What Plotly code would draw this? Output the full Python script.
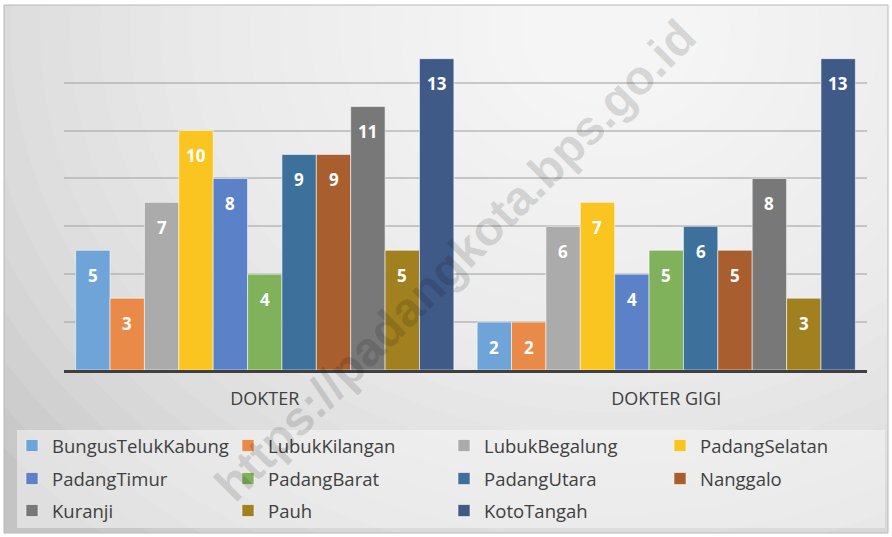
import plotly.graph_objects as go

categories = ["DOKTER", "DOKTER GIGI"]
districts = ["BungusTelukKabung", "LubukKilangan", "LubukBegalung", "PadangSelatan",
             "PadangTimur", "PadangBarat", "PadangUtara", "Nanggalo",
             "Kuranji", "Pauh", "KotoTangah"]
dokter = [5, 3, 7, 10, 8, 4, 9, 9, 11, 5, 13]
dokter_gigi = [2, 2, 6, 7, 4, 5, 6, 5, 8, 3, 13]
colors = ["#6ea4d8", "#e98a49", "#ababab", "#fac421", "#5b81c8", "#7fb25a",
          "#3e709c", "#a85e2e", "#787878", "#a1811f", "#405a87"]

W, H = 892, 537
ML, MR, MT, MB = 64, 25, 34, 167
PW, PH = W - ML - MR, H - MT - MB
BARGAP = 0.058


def px(x):
    return (x - ML) / PW


def py(y):
    return (H - MB - y) / PH


legend_ids = ["legend", "legend2", "legend3"]
nser = len(districts)
bar_w = (1 - BARGAP) / nser

fig = go.Figure()
annotations = []
for i, name in enumerate(districts):
    vals = [dokter[i], dokter_gigi[i]]
    fig.add_trace(go.Bar(
        name=name, x=categories, y=vals,
        legend=legend_ids[i // 4],
        marker=dict(color=colors[i], line=dict(color="rgba(255,255,255,0.55)", width=1)),
    ))
    for j, v in enumerate(vals):
        annotations.append(dict(
            x=j + (i - (nser - 1) / 2) * bar_w, y=v, xref="x", yref="y",
            text=str(v), showarrow=False, yanchor="middle", yshift=-25,
            font=dict(family="Open Sans", size=17, color="white", weight="bold")))

shapes = []
# frame background
shapes.append(dict(type="rect", xref="paper", yref="paper", x0=px(4), x1=px(888),
                   y0=py(533), y1=py(5), fillcolor="#c4c4c4", line=dict(width=0), layer="below"))
# radial gradient approximation
cx, cy = 610, 30
n = 26
for k in range(n):
    r = 780 * (1 - k / n)
    shapes.append(dict(type="circle", xref="paper", yref="paper",
                       x0=px(cx - r), x1=px(cx + r), y0=py(cy + r * 0.85), y1=py(cy - r * 0.85),
                       fillcolor="rgba(255,255,255,0.085)", line=dict(width=0), layer="below"))
# cover outside of frame with white
for (a, b, c, d) in [(-200, 4, -300, 900), (888, 1200, -300, 900),
                     (-200, 1200, -300, 5), (-200, 1200, 533, 900)]:
    shapes.append(dict(type="rect", xref="paper", yref="paper", x0=px(a), x1=px(b),
                       y0=py(d), y1=py(c), fillcolor="white", line=dict(width=0), layer="below"))
# frame border
shapes.append(dict(type="rect", xref="paper", yref="paper", x0=px(4), x1=px(888),
                   y0=py(533), y1=py(5), line=dict(color="#b8b8b8", width=1), layer="below"))
# legend box
shapes.append(dict(type="rect", xref="paper", yref="paper", x0=px(17), x1=px(885),
                   y0=py(528), y1=py(430), fillcolor="rgba(245,245,245,0.55)",
                   line=dict(width=0), layer="below"))

legend_style = dict(orientation="h", xanchor="left", yanchor="middle",
                    bgcolor="rgba(0,0,0,0)", entrywidth=171, entrywidthmode="pixels",
                    font=dict(family="Open Sans", size=18.5, color="#404040"),
                    itemwidth=30, traceorder="normal")
row_y = [446, 479, 511]

annotations.append(dict(text="https://padangkota.bps.go.id", xref="paper", yref="paper",
                        x=px(455), y=py(260), xanchor="center", yanchor="middle",
                        showarrow=False, textangle=-45,
                        font=dict(family="Liberation Sans", size=48, color="rgba(0,0,0,0.15)",
                                  weight="bold")))

fig.update_layout(
    width=W, height=H,
    margin=dict(l=ML, r=MR, t=MT, b=MB, autoexpand=False),
    paper_bgcolor="white", plot_bgcolor="rgba(0,0,0,0)",
    barmode="group", bargap=BARGAP, bargroupgap=0,
    font=dict(family="Open Sans", color="#404040"),
    shapes=shapes,
    showlegend=True,
    legend=dict(x=px(12), y=py(row_y[0]), **legend_style),
    legend2=dict(x=px(12), y=py(row_y[1]), **legend_style),
    legend3=dict(x=px(12), y=py(row_y[2]), **legend_style),
    xaxis=dict(showline=True, linecolor="#404040", linewidth=3, ticks="outside",
               ticklen=10, tickcolor="rgba(0,0,0,0)", tickfont=dict(size=18, color="#404040"),
               showgrid=False),
    yaxis=dict(range=[0, 14.03], dtick=2, showticklabels=False, showgrid=True,
               gridcolor="rgba(170,170,170,0.6)", gridwidth=2, zeroline=False),
    annotations=annotations,
)

fig.write_html("out.html", post_script="document.body.style.margin='0';",
               config={"displayModeBar": False})
